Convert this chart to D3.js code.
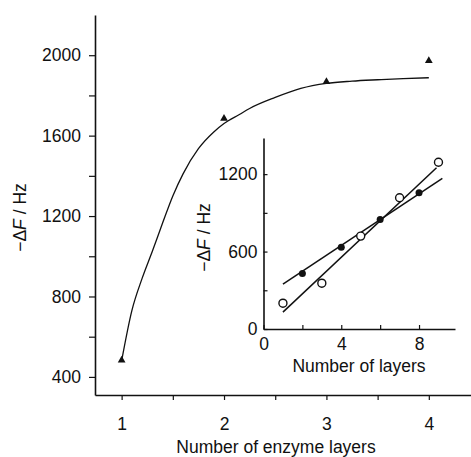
<!DOCTYPE html>
<html>
<head>
<meta charset="utf-8">
<script src="https://cdn.jsdelivr.net/npm/d3@7"></script>
<style>
  html, body { margin: 0; padding: 0; background: #fff; }
  svg { display: block; }
  text { font-family: "Liberation Sans", Arial, Helvetica, sans-serif; fill: #111; }
</style>
</head>
<body>
<script>
// ---- Main chart data ----
const mainLayers = [1, 2, 3, 4];
const mainFreq = [483, 1685, 1868, 1972];
const fitLayers = [1.0, 1.1, 1.2, 1.3, 1.4, 1.5, 1.6, 1.75, 1.9, 2.0, 2.15, 2.25, 2.5, 2.75, 3.0, 3.25, 3.5, 3.75, 4.0];
const fitFreq   = [480, 730, 890, 1025, 1165, 1300, 1410, 1535, 1618, 1660, 1705, 1735, 1790, 1835, 1860, 1871, 1878, 1884, 1888];
const mainXTicks = [1, 1.5, 2, 2.5, 3, 3.5, 4];
const mainXLabels = ["1", "", "2", "", "3", "", "4"];
const mainYTicks = [400, 600, 800, 1000, 1200, 1400, 1600, 1800, 2000];
const mainYLabels = ["400", "", "800", "", "1200", "", "1600", "", "2000"];

// ---- Inset data ----
const filledLayers = [2, 4, 6, 8];
const filledFreq = [430, 634, 848, 1055];
const openLayers = [1, 3, 5, 7, 9];
const openFreq = [200, 355, 720, 1017, 1292];
const filledFitX = [1.0, 9.2];
const filledFitY = [347, 1168];
const openFitX = [1.0, 8.9];
const openFitY = [131, 1250];
const insetXTicks = [0, 2, 4, 6, 8];
const insetXLabels = ["0", "", "4", "", "8"];
const insetYTicks = [0, 300, 600, 900, 1200];
const insetYLabels = ["0", "", "600", "", "1200"];

const W = 471, H = 457;
const svg = d3.select("body").append("svg").attr("width", W).attr("height", H);

// ---- Main scales ----
const x = d3.scaleLinear().domain([0.74, 4.45]).range([95, 474.9]);
const y = d3.scaleLinear().domain([310, 2200]).range([395, 15]);

const fs = "17.5px";

const xAxis = d3.axisBottom(x).tickValues(mainXTicks)
  .tickFormat((d, i) => mainXLabels[i]).tickSizeInner(5).tickSizeOuter(0).tickPadding(18);
const gx = svg.append("g").attr("transform", `translate(0,${y(310)})`).call(xAxis);
const yAxis = d3.axisLeft(y).tickValues(mainYTicks)
  .tickFormat((d, i) => mainYLabels[i]).tickSizeInner(6).tickSizeOuter(0).tickPadding(8);
const gy = svg.append("g").attr("transform", `translate(${x(0.74)},0)`).call(yAxis);

[gx, gy].forEach(g => {
  g.select(".domain").attr("stroke", "#111").attr("stroke-width", 1.6);
  g.selectAll(".tick line").attr("stroke", "#111").attr("stroke-width", 1.2);
  g.selectAll(".tick text").style("font-size", fs).attr("fill", "#111")
    .style("font-family", '"Liberation Sans", Arial, sans-serif');
});

// fit curve
const fitData = fitLayers.map((v, i) => [v, fitFreq[i]]);
svg.append("path").datum(fitData)
  .attr("fill", "none").attr("stroke", "#111").attr("stroke-width", 1.3)
  .attr("d", d3.line().x(d => x(d[0])).y(d => y(d[1])).curve(d3.curveMonotoneX));

// triangles
svg.selectAll(".tri").data(mainLayers.map((v, i) => [v, mainFreq[i]])).enter()
  .append("path")
  .attr("transform", d => `translate(${x(d[0])},${y(d[1])})`)
  .attr("d", d3.symbol().type(d3.symbolTriangle).size(26))
  .attr("fill", "#111");

// main axis titles
svg.append("text").attr("x", 276).attr("y", 452.5).attr("text-anchor", "middle")
  .style("font-size", fs).text("Number of enzyme layers");
const yt = svg.append("text").attr("transform", "translate(25.5,217.5) rotate(-90)")
  .attr("text-anchor", "middle").style("font-size", fs);
yt.append("tspan").text("\u2212\u0394");
yt.append("tspan").style("font-style", "italic").text("F");
yt.append("tspan").text(" / Hz");

// ---- Inset ----
const xi = d3.scaleLinear().domain([0, 9.85]).range([263.5, 455]);
const yi = d3.scaleLinear().domain([0, 1480]).range([329, 138]);

const xiAxis = d3.axisBottom(xi).tickValues(insetXTicks)
  .tickFormat((d, i) => insetXLabels[i]).tickSizeInner(-4).tickSizeOuter(0).tickPadding(9);
const gxi = svg.append("g").attr("transform", `translate(0,${yi(0)})`).call(xiAxis);
const yiAxis = d3.axisLeft(yi).tickValues(insetYTicks)
  .tickFormat((d, i) => insetYLabels[i]).tickSizeInner(-4).tickSizeOuter(0).tickPadding(6);
const gyi = svg.append("g").attr("transform", `translate(${xi(0)},0)`).call(yiAxis);
[gxi, gyi].forEach(g => {
  g.select(".domain").attr("stroke", "#111").attr("stroke-width", 1.6);
  g.selectAll(".tick line").attr("stroke", "#111").attr("stroke-width", 1.2);
  g.selectAll(".tick text").style("font-size", fs).attr("fill", "#111")
    .style("font-family", '"Liberation Sans", Arial, sans-serif');
});

// fit lines
const lineI = d3.line().x(d => xi(d[0])).y(d => yi(d[1]));
svg.append("path").datum(filledFitX.map((v, i) => [v, filledFitY[i]]))
  .attr("fill", "none").attr("stroke", "#111").attr("stroke-width", 1.5).attr("d", lineI);
svg.append("path").datum(openFitX.map((v, i) => [v, openFitY[i]]))
  .attr("fill", "none").attr("stroke", "#111").attr("stroke-width", 1.5).attr("d", lineI);

// markers
svg.selectAll(".fc").data(filledLayers.map((v, i) => [v, filledFreq[i]])).enter()
  .append("circle").attr("cx", d => xi(d[0])).attr("cy", d => yi(d[1]))
  .attr("r", 3.5).attr("fill", "#111");
svg.selectAll(".oc").data(openLayers.map((v, i) => [v, openFreq[i]])).enter()
  .append("circle").attr("cx", d => xi(d[0])).attr("cy", d => yi(d[1]))
  .attr("r", 4).attr("fill", "#fff").attr("stroke", "#111").attr("stroke-width", 1.4);

// inset titles
svg.append("text").attr("x", 359).attr("y", 372).attr("text-anchor", "middle")
  .style("font-size", fs).text("Number of layers");
const yti = svg.append("text").attr("transform", "translate(210,237.5) rotate(-90)")
  .attr("text-anchor", "middle").style("font-size", fs);
yti.append("tspan").text("\u2212\u0394");
yti.append("tspan").style("font-style", "italic").text("F");
yti.append("tspan").text(" / Hz");
</script>
</body>
</html>
